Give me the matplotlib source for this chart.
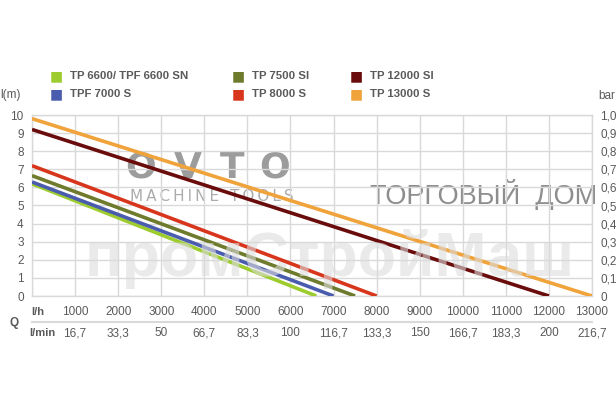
import matplotlib.pyplot as plt
import numpy as np

# pump curves: head (m) at zero flow, max flow (l/h)
models = ["TP 6600/ TPF 6600 SN", "TPF 7000 S", "TP 7500 SI", "TP 8000 S", "TP 12000 SI", "TP 13000 S"]
colors = ["#9dcc2e", "#4a5cae", "#6e7a2c", "#d8361c", "#6a0c0c", "#f0a33a"]
head0 = [6.2, 6.3, 6.65, 7.2, 9.2, 9.8]
qmax = [6600, 7000, 7500, 8000, 12000, 13000]

lh_ticks = [1000, 2000, 3000, 4000, 5000, 6000, 7000, 8000, 9000, 10000, 11000, 12000, 13000]
lmin_labels = ["16,7", "33,3", "50", "66,7", "83,3", "100", "116,7", "133,3", "150", "166,7", "183,3", "200", "216,7"]
bar_labels = ["0", "0,1", "0,2", "0,3", "0,4", "0,5", "0,6", "0,7", "0,8", "0,9", "1,0"]

plt.rcParams['font.family'] = ['Liberation Sans', 'DejaVu Sans']
W, H = 616, 411
fig = plt.figure(figsize=(W / 100, H / 100), dpi=100)
x0, x1, y0, y1 = 32, 592, 296, 115
ax = fig.add_axes([x0 / W, 1 - y0 / H, (x1 - x0) / W, (y0 - y1) / H])
ax.set_xlim(0, 13000)
ax.set_ylim(0, 10)

def px(x, y):
    return x / W, 1 - y / H

grey = '#5a5a5a'

# watermarks
for ch, cx in zip("OVTO", [141, 188, 232, 275]):
    fig.text(*px(cx, 168), ch, fontsize=26, fontweight='heavy', color='#9c9c9c',
             ha='center', va='center', zorder=0, family='DejaVu Sans')
fig.text(*px(212, 196), "M\u2009A\u2009C\u2009H\u2009I\u2009N\u2009E\u2009 \u2009T\u2009O\u2009O\u2009L\u2009S",
         fontsize=11, color='#ababab', ha='center', va='center', zorder=0, family='DejaVu Sans')
fig.text(*px(484, 194), "ТОРГОВЫЙ  ДОМ", fontsize=19.5, color='#8e8e8e',
         ha='center', va='center', zorder=0)
fig.text(*px(330, 276), "промСтройМаш", fontsize=45, fontweight='bold', color='#dcdcdc',
         alpha=0.6, ha='center', va='baseline', zorder=5)

ax.patch.set_alpha(0)
ax.set_zorder(2)
ax.set_xticks(np.arange(0, 13001, 1000))
ax.set_yticks(np.arange(0, 11, 1))
ax.grid(True, color='#d9d9d9', linewidth=1)
ax.tick_params(length=0, labelbottom=False, labelsize=8.5, labelcolor=grey, pad=6)
ax.set_yticklabels([str(v) for v in range(11)])
for s in ax.spines.values():
    s.set_color('#d9d9d9')
    s.set_linewidth(1)
ax.set_axisbelow(True)

ax2 = ax.twinx()
ax2.set_zorder(3)
ax2.set_ylim(0, 10)
ax2.set_yticks(np.arange(0, 11, 1))
ax2.set_yticklabels(bar_labels)
ax2.tick_params(length=0, labelsize=8.5, labelcolor=grey, pad=6)
for s in ax2.spines.values():
    s.set_visible(False)

for m, c, h, q in zip(models, colors, head0, qmax):
    ax.plot([0, q], [h, 0], color=c, linewidth=2.6, solid_capstyle='butt', zorder=3)

# bottom flow labels
for t, lab in zip(lh_ticks, lmin_labels):
    xf = (x0 + (x1 - x0) * t / 13000) / W
    fig.text(xf, 1 - 312 / H, f"{t}", fontsize=8.5, color=grey, ha='center', va='center')
    fig.text(xf, 1 - 333 / H, lab, fontsize=8.5, color=grey, ha='center', va='center')
fig.text(*px(31, 312), "l/h", fontsize=8, fontweight='bold', color=grey, va='center')
fig.text(*px(29, 333), "l/min", fontsize=8, fontweight='bold', color=grey, va='center')
fig.text(*px(10, 323), "Q", fontsize=8.5, fontweight='bold', color=grey, va='center')
fig.add_artist(plt.Line2D([x0 / W, x1 / W], [1 - 322 / H, 1 - 322 / H], color='#d9d9d9', linewidth=1.5))

fig.text(*px(0, 95), "l(m)", fontsize=8.5, color=grey, va='center')
fig.text(*px(598, 96), "bar", fontsize=8.5, color=grey, va='center')

# legend
leg_pos = [(50, 76), (50, 94), (232, 76), (232, 94), (350, 76), (350, 94)]
for (lx, ly), m, c in zip(leg_pos, models, colors):
    fig.text(*px(lx, ly), "\u25a0", fontsize=10, color=c, va='center', family='DejaVu Sans')
    fig.text(*px(lx + 20, ly), m, fontsize=8.2, fontweight='bold', color=grey, va='center')

fig.savefig("out.png", dpi=100)
